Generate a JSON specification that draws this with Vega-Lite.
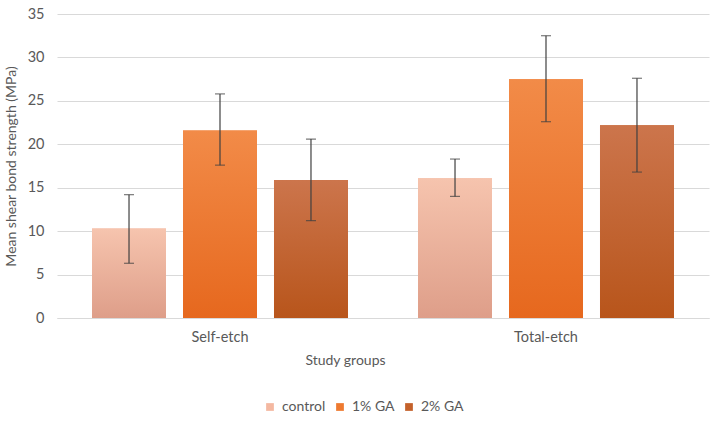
{
  "$schema": "https://vega.github.io/schema/vega-lite/v6.json",
  "width": 652,
  "height": 304,
  "autosize": {"type": "none"},
  "padding": {"left": 57, "top": 14, "right": 10, "bottom": 106},
  "background": "white",
  "config": {
    "font": "Lato",
    "view": {"stroke": null},
    "axis": {"labelColor": "#595959", "titleColor": "#595959", "labelFontSize": 14.5, "titleFontSize": 14, "titleFontWeight": "normal"}
  },
  "data": {
    "values": [
      {"group": "Self-etch", "series": "control", "mean": 10.3, "lo": 6.3, "hi": 14.2},
      {"group": "Self-etch", "series": "1% GA", "mean": 21.6, "lo": 17.6, "hi": 25.8},
      {"group": "Self-etch", "series": "2% GA", "mean": 15.9, "lo": 11.2, "hi": 20.6},
      {"group": "Total-etch", "series": "control", "mean": 16.1, "lo": 14.0, "hi": 18.3},
      {"group": "Total-etch", "series": "1% GA", "mean": 27.5, "lo": 22.6, "hi": 32.5},
      {"group": "Total-etch", "series": "2% GA", "mean": 22.2, "lo": 16.8, "hi": 27.6}
    ]
  },
  "encoding": {
    "x": {
      "field": "group", "type": "nominal",
      "scale": {"paddingInner": 0, "paddingOuter": 0},
      "axis": {"title": "Study groups", "labelAngle": 0, "ticks": false, "domainColor": "#D9D9D9", "labelPadding": 12, "titlePadding": 10, "titleX": 288}
    },
    "xOffset": {
      "field": "series", "type": "nominal", "sort": ["control", "1% GA", "2% GA"],
      "scale": {"paddingInner": 0.187, "paddingOuter": 0.385}
    }
  },
  "layer": [
    {
      "mark": {"type": "bar"},
      "encoding": {
        "y": {
          "field": "mean", "type": "quantitative",
          "scale": {"domain": [0, 35], "nice": false},
          "axis": {"title": "Mean shear bond strength (MPa)", "values": [0, 5, 10, 15, 20, 25, 30, 35], "grid": true, "gridColor": "#D9D9D9", "domain": false, "ticks": false, "labelPadding": 13, "titlePadding": 9}
        },
        "color": {
          "field": "series", "type": "nominal",
          "scale": {"domain": ["control", "1% GA", "2% GA"], "range": ["#F4B8A1", "#EE7A30", "#C4612B"]},
          "legend": {"title": null, "orient": "none", "direction": "horizontal", "legendX": 206, "legendY": 386, "symbolType": "square", "symbolSize": 60, "labelFontSize": 14, "labelColor": "#595959", "labelOffset": 5, "columnPadding": 7, "symbolStrokeWidth": 0}
        }
      }
    },
    {
      "transform": [{"filter": "datum.series === 'control'"}],
      "mark": {"type": "bar", "fill": {"gradient": "linear", "x1": 0, "y1": 0, "x2": 0, "y2": 1, "stops": [{"offset": 0, "color": "#F6C4AE"}, {"offset": 1, "color": "#DE9E89"}]}},
      "encoding": {"y": {"field": "mean", "type": "quantitative"}}
    },
    {
      "transform": [{"filter": "datum.series === '1% GA'"}],
      "mark": {"type": "bar", "fill": {"gradient": "linear", "x1": 0, "y1": 0, "x2": 0, "y2": 1, "stops": [{"offset": 0, "color": "#F28B48"}, {"offset": 1, "color": "#E6681E"}]}},
      "encoding": {"y": {"field": "mean", "type": "quantitative"}}
    },
    {
      "transform": [{"filter": "datum.series === '2% GA'"}],
      "mark": {"type": "bar", "fill": {"gradient": "linear", "x1": 0, "y1": 0, "x2": 0, "y2": 1, "stops": [{"offset": 0, "color": "#CC754C"}, {"offset": 1, "color": "#B8551B"}]}},
      "encoding": {"y": {"field": "mean", "type": "quantitative"}}
    },
    {
      "mark": {"type": "rule", "color": "#404040", "strokeWidth": 1.2},
      "encoding": {"y": {"field": "lo", "type": "quantitative"}, "y2": {"field": "hi"}}
    },
    {
      "mark": {"type": "tick", "color": "#404040", "size": 10, "thickness": 1.2},
      "encoding": {"y": {"field": "lo", "type": "quantitative"}}
    },
    {
      "mark": {"type": "tick", "color": "#404040", "size": 10, "thickness": 1.2},
      "encoding": {"y": {"field": "hi", "type": "quantitative"}}
    }
  ]
}
